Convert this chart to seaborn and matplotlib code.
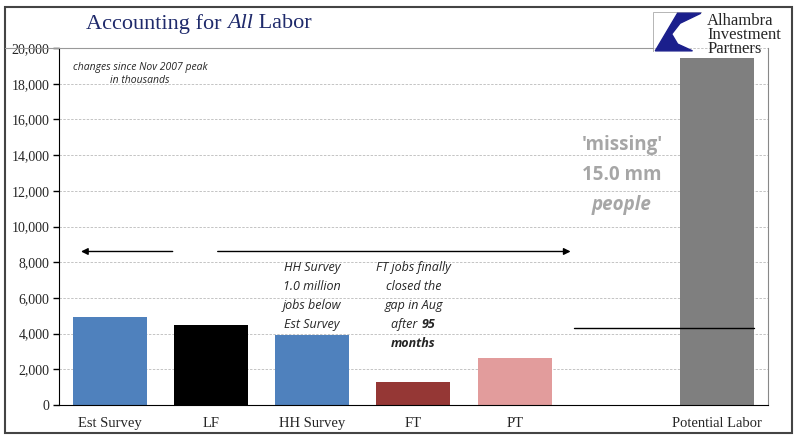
import numpy as np
import pandas as pd
import matplotlib.pyplot as plt
import matplotlib.patches as mpatches
import seaborn as sns
from matplotlib.ticker import FuncFormatter, MultipleLocator
from matplotlib.transforms import offset_copy

categories = ['Est Survey', 'LF', 'HH Survey', 'FT', 'PT', ' ', 'Potential Labor']
values = [4950, 4500, 3930, 1280, 2620, np.nan, 19450]
colors = ['#4F81BD', '#000000', '#4F81BD', '#953735', '#E29C9C', '#FFFFFF', '#7F7F7F']

df = pd.DataFrame({'cat': categories, 'val': values})

sns.set_style('white')
plt.rcParams['font.family'] = ['Liberation Serif', 'DejaVu Serif']
serif = ['Liberation Serif', 'DejaVu Serif']
sans = ['Open Sans', 'DejaVu Sans']

fig = plt.figure(figsize=(8, 4.45), dpi=100)
ax = fig.add_axes([0.07375, 0.09, 0.886, 0.802])

sns.barplot(data=df, x='cat', y='val', hue='cat', palette=colors, order=categories,
            width=0.73, saturation=1, legend=False, ax=ax, edgecolor='none')

ax.set_xlim(-0.5, 6.5)
ax.set_ylim(0, 20000)
ax.yaxis.set_major_locator(MultipleLocator(2000))
ax.yaxis.set_major_formatter(FuncFormatter(lambda v, p: f'{int(v):,}'))
ax.yaxis.grid(True, linestyle=(0, (2.5, 1.5)), color='#C4C4C4', linewidth=0.7)
ax.set_axisbelow(True)
ax.set_xlabel('')
ax.set_ylabel('')

ax.set_xticks(range(len(categories)))
ax.set_xticklabels(categories, fontsize=10.5)
ax.tick_params(axis='x', length=0, pad=9)
ax.set_xticks(np.arange(-0.5, 7, 1), minor=True)
ax.tick_params(axis='x', which='minor', length=5, width=1, color='black', direction='out')
ax.tick_params(axis='y', length=4, width=1, color='black', direction='out', labelsize=10,
               left=True, pad=3)

ax.spines['top'].set_visible(False)
ax.spines['left'].set_color('black')
ax.spines['bottom'].set_color('black')
ax.spines['right'].set_color('#888888')
ax.spines['right'].set_linewidth(0.8)

# arrows and reference line
ax.annotate('', xy=(-0.31, 8600), xytext=(0.65, 8600),
            arrowprops=dict(arrowstyle='-|>', color='black', lw=1, mutation_scale=10))
ax.annotate('', xy=(4.58, 8600), xytext=(1.04, 8600),
            arrowprops=dict(arrowstyle='-|>', color='black', lw=1, mutation_scale=10))
ax.plot([4.59, 6.365], [4330, 4330], color='black', lw=1)

ax.text(0.3, 18550, 'changes since Nov 2007 peak\nin thousands', ha='center', va='center',
        fontsize=7.5, style='italic', family=sans, linespacing=1.35)

hh_lines = ['HH Survey', '1.0 million', 'jobs below', 'Est Survey']
for i, t in enumerate(hh_lines):
    ax.text(2.0, 7675 - i * 1060, t, ha='center', va='center', fontsize=9,
            style='italic', family=sans)

ft_lines = ['FT jobs finally', 'closed the', 'gap in Aug']
for i, t in enumerate(ft_lines):
    ax.text(3.0, 7675 - i * 1060, t, ha='center', va='center', fontsize=9,
            style='italic', family=sans)
renderer = fig.canvas.get_renderer()
t1 = ax.text(2.93, 7675 - 3 * 1060, 'after ', ha='center', va='center', fontsize=9,
             style='italic', family=sans)
w1 = t1.get_window_extent(renderer).width
ax.text(2.93, 7675 - 3 * 1060, '95', ha='left', va='center', fontsize=9, style='italic',
        weight='bold', family=sans,
        transform=offset_copy(ax.transData, fig=fig, x=w1 / 2 * 72 / fig.dpi, units='points'))
ax.text(3.0, 7675 - 4 * 1060, 'months', ha='center', va='center', fontsize=9,
        style='italic', weight='bold', family=sans)

miss_lines = ["'missing'", '15.0 mm', 'people']
for i, t in enumerate(miss_lines):
    ax.text(5.06, 14560 - i * 1680, t, ha='center', va='center', fontsize=13.5,
            weight='bold', style='italic' if t == 'people' else 'normal',
            color='#A6A6A6', family=sans)

# title, laid out piece by piece
x0 = 0.107
for part, st in [('Accounting for ', 'normal'), ('All', 'italic'), (' Labor', 'normal')]:
    tt = fig.text(x0, 0.947, part, ha='left', va='center', fontsize=16, style=st,
                  color='#1F2A6B', family=serif)
    x0 += tt.get_window_extent(renderer).width / fig.bbox.width

# logo
logo = fig.add_axes([0.816, 0.883, 0.062, 0.09])
logo.set_xlim(0, 1)
logo.set_ylim(0, 1)
logo.axis('off')
logo.add_patch(mpatches.Rectangle((0, 0), 1, 1, fill=False, edgecolor='#AAAAAA', lw=0.6))
logo.add_patch(mpatches.Polygon([[0.05, 0.03], [0.5, 0.97], [0.97, 0.97], [0.55, 0.72],
                                 [0.38, 0.45], [0.5, 0.2], [0.8, 0.03]],
                                closed=True, color='#1B1F8C'))
fig.text(0.884, 0.922, 'Alhambra\nInvestment\nPartners', ha='left', va='center', fontsize=12,
         family=serif, linespacing=0.82)

# outer frame and header rule
fig.add_artist(mpatches.Rectangle((0.006, 0.027), 0.984, 0.957, transform=fig.transFigure,
                                  fill=False, edgecolor='#444444', lw=1.5))
fig.add_artist(plt.Line2D([0.006, 0.816], [0.893, 0.893], transform=fig.transFigure,
                          color='#999999', lw=0.8))

fig.savefig('out.png', dpi=100)
